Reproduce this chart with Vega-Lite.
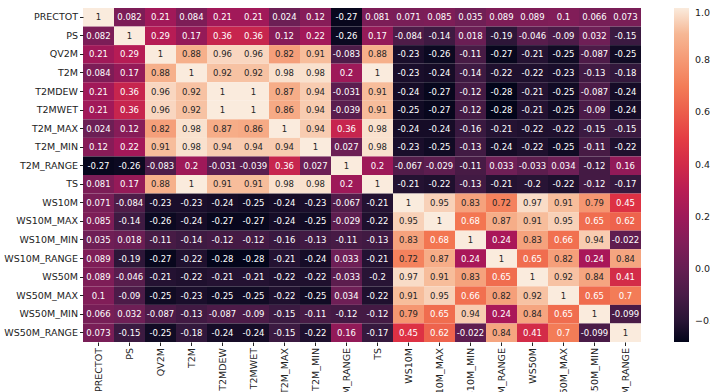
{
  "$schema": "https://vega.github.io/schema/vega-lite/v6.json",
  "autosize": {"type": "none"},
  "padding": {"left": 83, "top": 8, "right": 69, "bottom": 50},
  "width": 558,
  "height": 334,
  "background": "white",
  "config": {
    "view": {"stroke": null},
    "font": "DejaVu Sans",
    "locale": {"number": {"decimal": ".", "thousands": ",", "grouping": [3], "currency": ["", ""], "minus": "-"}}
  },
  "datasets": {
    "corr": [
{"y":"PRECTOT","x":"PRECTOT","r":1},{"y":"PRECTOT","x":"PS","r":0.082},{"y":"PRECTOT","x":"QV2M","r":0.21},{"y":"PRECTOT","x":"T2M","r":0.084},{"y":"PRECTOT","x":"T2MDEW","r":0.21},{"y":"PRECTOT","x":"T2MWET","r":0.21},{"y":"PRECTOT","x":"T2M_MAX","r":0.024},{"y":"PRECTOT","x":"T2M_MIN","r":0.12},{"y":"PRECTOT","x":"T2M_RANGE","r":-0.27},{"y":"PRECTOT","x":"TS","r":0.081},{"y":"PRECTOT","x":"WS10M","r":0.071},{"y":"PRECTOT","x":"WS10M_MAX","r":0.085},{"y":"PRECTOT","x":"WS10M_MIN","r":0.035},{"y":"PRECTOT","x":"WS10M_RANGE","r":0.089},{"y":"PRECTOT","x":"WS50M","r":0.089},{"y":"PRECTOT","x":"WS50M_MAX","r":0.1},{"y":"PRECTOT","x":"WS50M_MIN","r":0.066},{"y":"PRECTOT","x":"WS50M_RANGE","r":0.073},
{"y":"PS","x":"PRECTOT","r":0.082},{"y":"PS","x":"PS","r":1},{"y":"PS","x":"QV2M","r":0.29},{"y":"PS","x":"T2M","r":0.17},{"y":"PS","x":"T2MDEW","r":0.36},{"y":"PS","x":"T2MWET","r":0.36},{"y":"PS","x":"T2M_MAX","r":0.12},{"y":"PS","x":"T2M_MIN","r":0.22},{"y":"PS","x":"T2M_RANGE","r":-0.26},{"y":"PS","x":"TS","r":0.17},{"y":"PS","x":"WS10M","r":-0.084},{"y":"PS","x":"WS10M_MAX","r":-0.14},{"y":"PS","x":"WS10M_MIN","r":0.018},{"y":"PS","x":"WS10M_RANGE","r":-0.19},{"y":"PS","x":"WS50M","r":-0.046},{"y":"PS","x":"WS50M_MAX","r":-0.09},{"y":"PS","x":"WS50M_MIN","r":0.032},{"y":"PS","x":"WS50M_RANGE","r":-0.15},
{"y":"QV2M","x":"PRECTOT","r":0.21},{"y":"QV2M","x":"PS","r":0.29},{"y":"QV2M","x":"QV2M","r":1},{"y":"QV2M","x":"T2M","r":0.88},{"y":"QV2M","x":"T2MDEW","r":0.96},{"y":"QV2M","x":"T2MWET","r":0.96},{"y":"QV2M","x":"T2M_MAX","r":0.82},{"y":"QV2M","x":"T2M_MIN","r":0.91},{"y":"QV2M","x":"T2M_RANGE","r":-0.083},{"y":"QV2M","x":"TS","r":0.88},{"y":"QV2M","x":"WS10M","r":-0.23},{"y":"QV2M","x":"WS10M_MAX","r":-0.26},{"y":"QV2M","x":"WS10M_MIN","r":-0.11},{"y":"QV2M","x":"WS10M_RANGE","r":-0.27},{"y":"QV2M","x":"WS50M","r":-0.21},{"y":"QV2M","x":"WS50M_MAX","r":-0.25},{"y":"QV2M","x":"WS50M_MIN","r":-0.087},{"y":"QV2M","x":"WS50M_RANGE","r":-0.25},
{"y":"T2M","x":"PRECTOT","r":0.084},{"y":"T2M","x":"PS","r":0.17},{"y":"T2M","x":"QV2M","r":0.88},{"y":"T2M","x":"T2M","r":1},{"y":"T2M","x":"T2MDEW","r":0.92},{"y":"T2M","x":"T2MWET","r":0.92},{"y":"T2M","x":"T2M_MAX","r":0.98},{"y":"T2M","x":"T2M_MIN","r":0.98},{"y":"T2M","x":"T2M_RANGE","r":0.2},{"y":"T2M","x":"TS","r":1},{"y":"T2M","x":"WS10M","r":-0.23},{"y":"T2M","x":"WS10M_MAX","r":-0.24},{"y":"T2M","x":"WS10M_MIN","r":-0.14},{"y":"T2M","x":"WS10M_RANGE","r":-0.22},{"y":"T2M","x":"WS50M","r":-0.22},{"y":"T2M","x":"WS50M_MAX","r":-0.23},{"y":"T2M","x":"WS50M_MIN","r":-0.13},{"y":"T2M","x":"WS50M_RANGE","r":-0.18},
{"y":"T2MDEW","x":"PRECTOT","r":0.21},{"y":"T2MDEW","x":"PS","r":0.36},{"y":"T2MDEW","x":"QV2M","r":0.96},{"y":"T2MDEW","x":"T2M","r":0.92},{"y":"T2MDEW","x":"T2MDEW","r":1},{"y":"T2MDEW","x":"T2MWET","r":1},{"y":"T2MDEW","x":"T2M_MAX","r":0.87},{"y":"T2MDEW","x":"T2M_MIN","r":0.94},{"y":"T2MDEW","x":"T2M_RANGE","r":-0.031},{"y":"T2MDEW","x":"TS","r":0.91},{"y":"T2MDEW","x":"WS10M","r":-0.24},{"y":"T2MDEW","x":"WS10M_MAX","r":-0.27},{"y":"T2MDEW","x":"WS10M_MIN","r":-0.12},{"y":"T2MDEW","x":"WS10M_RANGE","r":-0.28},{"y":"T2MDEW","x":"WS50M","r":-0.21},{"y":"T2MDEW","x":"WS50M_MAX","r":-0.25},{"y":"T2MDEW","x":"WS50M_MIN","r":-0.087},{"y":"T2MDEW","x":"WS50M_RANGE","r":-0.24},
{"y":"T2MWET","x":"PRECTOT","r":0.21},{"y":"T2MWET","x":"PS","r":0.36},{"y":"T2MWET","x":"QV2M","r":0.96},{"y":"T2MWET","x":"T2M","r":0.92},{"y":"T2MWET","x":"T2MDEW","r":1},{"y":"T2MWET","x":"T2MWET","r":1},{"y":"T2MWET","x":"T2M_MAX","r":0.86},{"y":"T2MWET","x":"T2M_MIN","r":0.94},{"y":"T2MWET","x":"T2M_RANGE","r":-0.039},{"y":"T2MWET","x":"TS","r":0.91},{"y":"T2MWET","x":"WS10M","r":-0.25},{"y":"T2MWET","x":"WS10M_MAX","r":-0.27},{"y":"T2MWET","x":"WS10M_MIN","r":-0.12},{"y":"T2MWET","x":"WS10M_RANGE","r":-0.28},{"y":"T2MWET","x":"WS50M","r":-0.21},{"y":"T2MWET","x":"WS50M_MAX","r":-0.25},{"y":"T2MWET","x":"WS50M_MIN","r":-0.09},{"y":"T2MWET","x":"WS50M_RANGE","r":-0.24},
{"y":"T2M_MAX","x":"PRECTOT","r":0.024},{"y":"T2M_MAX","x":"PS","r":0.12},{"y":"T2M_MAX","x":"QV2M","r":0.82},{"y":"T2M_MAX","x":"T2M","r":0.98},{"y":"T2M_MAX","x":"T2MDEW","r":0.87},{"y":"T2M_MAX","x":"T2MWET","r":0.86},{"y":"T2M_MAX","x":"T2M_MAX","r":1},{"y":"T2M_MAX","x":"T2M_MIN","r":0.94},{"y":"T2M_MAX","x":"T2M_RANGE","r":0.36},{"y":"T2M_MAX","x":"TS","r":0.98},{"y":"T2M_MAX","x":"WS10M","r":-0.24},{"y":"T2M_MAX","x":"WS10M_MAX","r":-0.24},{"y":"T2M_MAX","x":"WS10M_MIN","r":-0.16},{"y":"T2M_MAX","x":"WS10M_RANGE","r":-0.21},{"y":"T2M_MAX","x":"WS50M","r":-0.22},{"y":"T2M_MAX","x":"WS50M_MAX","r":-0.22},{"y":"T2M_MAX","x":"WS50M_MIN","r":-0.15},{"y":"T2M_MAX","x":"WS50M_RANGE","r":-0.15},
{"y":"T2M_MIN","x":"PRECTOT","r":0.12},{"y":"T2M_MIN","x":"PS","r":0.22},{"y":"T2M_MIN","x":"QV2M","r":0.91},{"y":"T2M_MIN","x":"T2M","r":0.98},{"y":"T2M_MIN","x":"T2MDEW","r":0.94},{"y":"T2M_MIN","x":"T2MWET","r":0.94},{"y":"T2M_MIN","x":"T2M_MAX","r":0.94},{"y":"T2M_MIN","x":"T2M_MIN","r":1},{"y":"T2M_MIN","x":"T2M_RANGE","r":0.027},{"y":"T2M_MIN","x":"TS","r":0.98},{"y":"T2M_MIN","x":"WS10M","r":-0.23},{"y":"T2M_MIN","x":"WS10M_MAX","r":-0.25},{"y":"T2M_MIN","x":"WS10M_MIN","r":-0.13},{"y":"T2M_MIN","x":"WS10M_RANGE","r":-0.24},{"y":"T2M_MIN","x":"WS50M","r":-0.22},{"y":"T2M_MIN","x":"WS50M_MAX","r":-0.25},{"y":"T2M_MIN","x":"WS50M_MIN","r":-0.11},{"y":"T2M_MIN","x":"WS50M_RANGE","r":-0.22},
{"y":"T2M_RANGE","x":"PRECTOT","r":-0.27},{"y":"T2M_RANGE","x":"PS","r":-0.26},{"y":"T2M_RANGE","x":"QV2M","r":-0.083},{"y":"T2M_RANGE","x":"T2M","r":0.2},{"y":"T2M_RANGE","x":"T2MDEW","r":-0.031},{"y":"T2M_RANGE","x":"T2MWET","r":-0.039},{"y":"T2M_RANGE","x":"T2M_MAX","r":0.36},{"y":"T2M_RANGE","x":"T2M_MIN","r":0.027},{"y":"T2M_RANGE","x":"T2M_RANGE","r":1},{"y":"T2M_RANGE","x":"TS","r":0.2},{"y":"T2M_RANGE","x":"WS10M","r":-0.067},{"y":"T2M_RANGE","x":"WS10M_MAX","r":-0.029},{"y":"T2M_RANGE","x":"WS10M_MIN","r":-0.11},{"y":"T2M_RANGE","x":"WS10M_RANGE","r":0.033},{"y":"T2M_RANGE","x":"WS50M","r":-0.033},{"y":"T2M_RANGE","x":"WS50M_MAX","r":0.034},{"y":"T2M_RANGE","x":"WS50M_MIN","r":-0.12},{"y":"T2M_RANGE","x":"WS50M_RANGE","r":0.16},
{"y":"TS","x":"PRECTOT","r":0.081},{"y":"TS","x":"PS","r":0.17},{"y":"TS","x":"QV2M","r":0.88},{"y":"TS","x":"T2M","r":1},{"y":"TS","x":"T2MDEW","r":0.91},{"y":"TS","x":"T2MWET","r":0.91},{"y":"TS","x":"T2M_MAX","r":0.98},{"y":"TS","x":"T2M_MIN","r":0.98},{"y":"TS","x":"T2M_RANGE","r":0.2},{"y":"TS","x":"TS","r":1},{"y":"TS","x":"WS10M","r":-0.21},{"y":"TS","x":"WS10M_MAX","r":-0.22},{"y":"TS","x":"WS10M_MIN","r":-0.13},{"y":"TS","x":"WS10M_RANGE","r":-0.21},{"y":"TS","x":"WS50M","r":-0.2},{"y":"TS","x":"WS50M_MAX","r":-0.22},{"y":"TS","x":"WS50M_MIN","r":-0.12},{"y":"TS","x":"WS50M_RANGE","r":-0.17},
{"y":"WS10M","x":"PRECTOT","r":0.071},{"y":"WS10M","x":"PS","r":-0.084},{"y":"WS10M","x":"QV2M","r":-0.23},{"y":"WS10M","x":"T2M","r":-0.23},{"y":"WS10M","x":"T2MDEW","r":-0.24},{"y":"WS10M","x":"T2MWET","r":-0.25},{"y":"WS10M","x":"T2M_MAX","r":-0.24},{"y":"WS10M","x":"T2M_MIN","r":-0.23},{"y":"WS10M","x":"T2M_RANGE","r":-0.067},{"y":"WS10M","x":"TS","r":-0.21},{"y":"WS10M","x":"WS10M","r":1},{"y":"WS10M","x":"WS10M_MAX","r":0.95},{"y":"WS10M","x":"WS10M_MIN","r":0.83},{"y":"WS10M","x":"WS10M_RANGE","r":0.72},{"y":"WS10M","x":"WS50M","r":0.97},{"y":"WS10M","x":"WS50M_MAX","r":0.91},{"y":"WS10M","x":"WS50M_MIN","r":0.79},{"y":"WS10M","x":"WS50M_RANGE","r":0.45},
{"y":"WS10M_MAX","x":"PRECTOT","r":0.085},{"y":"WS10M_MAX","x":"PS","r":-0.14},{"y":"WS10M_MAX","x":"QV2M","r":-0.26},{"y":"WS10M_MAX","x":"T2M","r":-0.24},{"y":"WS10M_MAX","x":"T2MDEW","r":-0.27},{"y":"WS10M_MAX","x":"T2MWET","r":-0.27},{"y":"WS10M_MAX","x":"T2M_MAX","r":-0.24},{"y":"WS10M_MAX","x":"T2M_MIN","r":-0.25},{"y":"WS10M_MAX","x":"T2M_RANGE","r":-0.029},{"y":"WS10M_MAX","x":"TS","r":-0.22},{"y":"WS10M_MAX","x":"WS10M","r":0.95},{"y":"WS10M_MAX","x":"WS10M_MAX","r":1},{"y":"WS10M_MAX","x":"WS10M_MIN","r":0.68},{"y":"WS10M_MAX","x":"WS10M_RANGE","r":0.87},{"y":"WS10M_MAX","x":"WS50M","r":0.91},{"y":"WS10M_MAX","x":"WS50M_MAX","r":0.95},{"y":"WS10M_MAX","x":"WS50M_MIN","r":0.65},{"y":"WS10M_MAX","x":"WS50M_RANGE","r":0.62},
{"y":"WS10M_MIN","x":"PRECTOT","r":0.035},{"y":"WS10M_MIN","x":"PS","r":0.018},{"y":"WS10M_MIN","x":"QV2M","r":-0.11},{"y":"WS10M_MIN","x":"T2M","r":-0.14},{"y":"WS10M_MIN","x":"T2MDEW","r":-0.12},{"y":"WS10M_MIN","x":"T2MWET","r":-0.12},{"y":"WS10M_MIN","x":"T2M_MAX","r":-0.16},{"y":"WS10M_MIN","x":"T2M_MIN","r":-0.13},{"y":"WS10M_MIN","x":"T2M_RANGE","r":-0.11},{"y":"WS10M_MIN","x":"TS","r":-0.13},{"y":"WS10M_MIN","x":"WS10M","r":0.83},{"y":"WS10M_MIN","x":"WS10M_MAX","r":0.68},{"y":"WS10M_MIN","x":"WS10M_MIN","r":1},{"y":"WS10M_MIN","x":"WS10M_RANGE","r":0.24},{"y":"WS10M_MIN","x":"WS50M","r":0.83},{"y":"WS10M_MIN","x":"WS50M_MAX","r":0.66},{"y":"WS10M_MIN","x":"WS50M_MIN","r":0.94},{"y":"WS10M_MIN","x":"WS50M_RANGE","r":-0.022},
{"y":"WS10M_RANGE","x":"PRECTOT","r":0.089},{"y":"WS10M_RANGE","x":"PS","r":-0.19},{"y":"WS10M_RANGE","x":"QV2M","r":-0.27},{"y":"WS10M_RANGE","x":"T2M","r":-0.22},{"y":"WS10M_RANGE","x":"T2MDEW","r":-0.28},{"y":"WS10M_RANGE","x":"T2MWET","r":-0.28},{"y":"WS10M_RANGE","x":"T2M_MAX","r":-0.21},{"y":"WS10M_RANGE","x":"T2M_MIN","r":-0.24},{"y":"WS10M_RANGE","x":"T2M_RANGE","r":0.033},{"y":"WS10M_RANGE","x":"TS","r":-0.21},{"y":"WS10M_RANGE","x":"WS10M","r":0.72},{"y":"WS10M_RANGE","x":"WS10M_MAX","r":0.87},{"y":"WS10M_RANGE","x":"WS10M_MIN","r":0.24},{"y":"WS10M_RANGE","x":"WS10M_RANGE","r":1},{"y":"WS10M_RANGE","x":"WS50M","r":0.65},{"y":"WS10M_RANGE","x":"WS50M_MAX","r":0.82},{"y":"WS10M_RANGE","x":"WS50M_MIN","r":0.24},{"y":"WS10M_RANGE","x":"WS50M_RANGE","r":0.84},
{"y":"WS50M","x":"PRECTOT","r":0.089},{"y":"WS50M","x":"PS","r":-0.046},{"y":"WS50M","x":"QV2M","r":-0.21},{"y":"WS50M","x":"T2M","r":-0.22},{"y":"WS50M","x":"T2MDEW","r":-0.21},{"y":"WS50M","x":"T2MWET","r":-0.21},{"y":"WS50M","x":"T2M_MAX","r":-0.22},{"y":"WS50M","x":"T2M_MIN","r":-0.22},{"y":"WS50M","x":"T2M_RANGE","r":-0.033},{"y":"WS50M","x":"TS","r":-0.2},{"y":"WS50M","x":"WS10M","r":0.97},{"y":"WS50M","x":"WS10M_MAX","r":0.91},{"y":"WS50M","x":"WS10M_MIN","r":0.83},{"y":"WS50M","x":"WS10M_RANGE","r":0.65},{"y":"WS50M","x":"WS50M","r":1},{"y":"WS50M","x":"WS50M_MAX","r":0.92},{"y":"WS50M","x":"WS50M_MIN","r":0.84},{"y":"WS50M","x":"WS50M_RANGE","r":0.41},
{"y":"WS50M_MAX","x":"PRECTOT","r":0.1},{"y":"WS50M_MAX","x":"PS","r":-0.09},{"y":"WS50M_MAX","x":"QV2M","r":-0.25},{"y":"WS50M_MAX","x":"T2M","r":-0.23},{"y":"WS50M_MAX","x":"T2MDEW","r":-0.25},{"y":"WS50M_MAX","x":"T2MWET","r":-0.25},{"y":"WS50M_MAX","x":"T2M_MAX","r":-0.22},{"y":"WS50M_MAX","x":"T2M_MIN","r":-0.25},{"y":"WS50M_MAX","x":"T2M_RANGE","r":0.034},{"y":"WS50M_MAX","x":"TS","r":-0.22},{"y":"WS50M_MAX","x":"WS10M","r":0.91},{"y":"WS50M_MAX","x":"WS10M_MAX","r":0.95},{"y":"WS50M_MAX","x":"WS10M_MIN","r":0.66},{"y":"WS50M_MAX","x":"WS10M_RANGE","r":0.82},{"y":"WS50M_MAX","x":"WS50M","r":0.92},{"y":"WS50M_MAX","x":"WS50M_MAX","r":1},{"y":"WS50M_MAX","x":"WS50M_MIN","r":0.65},{"y":"WS50M_MAX","x":"WS50M_RANGE","r":0.7},
{"y":"WS50M_MIN","x":"PRECTOT","r":0.066},{"y":"WS50M_MIN","x":"PS","r":0.032},{"y":"WS50M_MIN","x":"QV2M","r":-0.087},{"y":"WS50M_MIN","x":"T2M","r":-0.13},{"y":"WS50M_MIN","x":"T2MDEW","r":-0.087},{"y":"WS50M_MIN","x":"T2MWET","r":-0.09},{"y":"WS50M_MIN","x":"T2M_MAX","r":-0.15},{"y":"WS50M_MIN","x":"T2M_MIN","r":-0.11},{"y":"WS50M_MIN","x":"T2M_RANGE","r":-0.12},{"y":"WS50M_MIN","x":"TS","r":-0.12},{"y":"WS50M_MIN","x":"WS10M","r":0.79},{"y":"WS50M_MIN","x":"WS10M_MAX","r":0.65},{"y":"WS50M_MIN","x":"WS10M_MIN","r":0.94},{"y":"WS50M_MIN","x":"WS10M_RANGE","r":0.24},{"y":"WS50M_MIN","x":"WS50M","r":0.84},{"y":"WS50M_MIN","x":"WS50M_MAX","r":0.65},{"y":"WS50M_MIN","x":"WS50M_MIN","r":1},{"y":"WS50M_MIN","x":"WS50M_RANGE","r":-0.099},
{"y":"WS50M_RANGE","x":"PRECTOT","r":0.073},{"y":"WS50M_RANGE","x":"PS","r":-0.15},{"y":"WS50M_RANGE","x":"QV2M","r":-0.25},{"y":"WS50M_RANGE","x":"T2M","r":-0.18},{"y":"WS50M_RANGE","x":"T2MDEW","r":-0.24},{"y":"WS50M_RANGE","x":"T2MWET","r":-0.24},{"y":"WS50M_RANGE","x":"T2M_MAX","r":-0.15},{"y":"WS50M_RANGE","x":"T2M_MIN","r":-0.22},{"y":"WS50M_RANGE","x":"T2M_RANGE","r":0.16},{"y":"WS50M_RANGE","x":"TS","r":-0.17},{"y":"WS50M_RANGE","x":"WS10M","r":0.45},{"y":"WS50M_RANGE","x":"WS10M_MAX","r":0.62},{"y":"WS50M_RANGE","x":"WS10M_MIN","r":-0.022},{"y":"WS50M_RANGE","x":"WS10M_RANGE","r":0.84},{"y":"WS50M_RANGE","x":"WS50M","r":0.41},{"y":"WS50M_RANGE","x":"WS50M_MAX","r":0.7},{"y":"WS50M_RANGE","x":"WS50M_MIN","r":-0.099},{"y":"WS50M_RANGE","x":"WS50M_RANGE","r":1}
    ]
  },
  "data": {"name": "corr"},
  "encoding": {
    "x": {
      "field": "x", "type": "nominal",
      "sort": ["PRECTOT","PS","QV2M","T2M","T2MDEW","T2MWET","T2M_MAX","T2M_MIN","T2M_RANGE","TS","WS10M","WS10M_MAX","WS10M_MIN","WS10M_RANGE","WS50M","WS50M_MAX","WS50M_MIN","WS50M_RANGE"],
      "scale": {"paddingInner": 0, "paddingOuter": 0},
      "axis": {"title": null, "orient": "bottom", "labelAngle": -90, "domain": false, "tickSize": 3.5, "tickColor": "#222", "tickWidth": 1, "labelPadding": 2, "labelFontSize": 9.5, "labelColor": "#222", "labelFont": "DejaVu Sans"}
    },
    "y": {
      "field": "y", "type": "nominal",
      "sort": ["PRECTOT","PS","QV2M","T2M","T2MDEW","T2MWET","T2M_MAX","T2M_MIN","T2M_RANGE","TS","WS10M","WS10M_MAX","WS10M_MIN","WS10M_RANGE","WS50M","WS50M_MAX","WS50M_MIN","WS50M_RANGE"],
      "scale": {"paddingInner": 0, "paddingOuter": 0},
      "axis": {"title": null, "domain": false, "tickSize": 3.5, "tickColor": "#222", "tickWidth": 1, "labelPadding": 2, "labelFontSize": 9.5, "labelColor": "#222", "labelFont": "DejaVu Sans"}
    }
  },
  "layer": [
    {
      "mark": {"type": "rect", "strokeWidth": 0},
      "encoding": {
        "color": {
          "field": "r", "type": "quantitative",
          "scale": {
            "domain": [-0.28, -0.1733, 0.04, 0.2533, 0.4667, 0.68, 0.8933, 1.0],
            "range": ["#03051A", "#35193E", "#701F57", "#AD1759", "#E13342", "#F37651", "#F6B48F", "#FAEBDD"],
            "interpolate": "rgb"
          },
          "legend": {
            "title": null, "orient": "right", "offset": 33,
            "gradientLength": 334, "gradientThickness": 15, "gradientStrokeWidth": 0,
            "values": [-0.2, 0, 0.2, 0.4, 0.6, 0.8, 1.0],
            "format": ".1f",
            "labelExpr": "replace(datum.label, '-', '\u2212')",
            "labelFontSize": 9.5, "labelColor": "#222", "labelOffset": 6, "labelFont": "DejaVu Sans"
          }
        }
      }
    },
    {
      "mark": {"type": "text", "fontSize": 8.5, "font": "DejaVu Sans"},
      "encoding": {
        "text": {"field": "r", "type": "quantitative", "format": ".2~g"},
        "color": {
          "condition": {"test": "datum.r > 0.71", "value": "#262626"},
          "value": "white"
        }
      }
    }
  ]
}
